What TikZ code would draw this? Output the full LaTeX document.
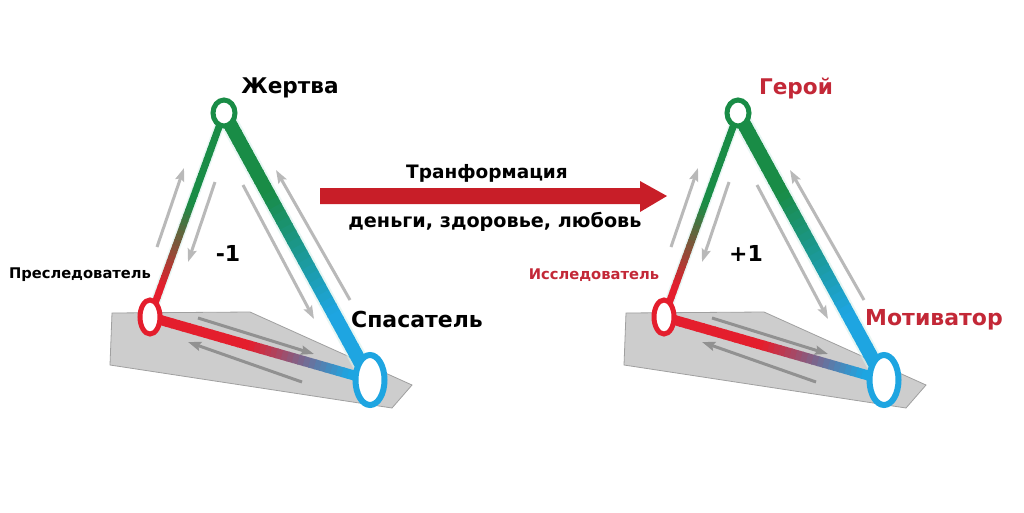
\documentclass[tikz,border=0pt]{standalone}
\usepackage{fontspec}
\setmainfont{DejaVu Sans}
\usetikzlibrary{shapes.geometric,arrows.meta,calc}
\definecolor{tgreen}{RGB}{25,140,70}
\definecolor{tblue}{RGB}{30,165,225}
\definecolor{tred}{RGB}{228,30,45}
\definecolor{arrred}{RGB}{200,30,40}
\definecolor{lblred}{RGB}{195,40,55}
\definecolor{garrow}{RGB}{185,185,185}
\definecolor{garrowd}{RGB}{145,145,145}
\definecolor{plat}{RGB}{205,205,205}
\definecolor{platedge}{RGB}{160,160,160}
\definecolor{glow}{RGB}{215,240,235}
\newcommand\gradedge[7]{%
  \foreach \i in {0,...,39}{%
    \pgfmathsetmacro\myT{(\i+0.5)/40}%
    \pgfmathsetmacro\myP{max(0,min(100,100*(#7-\myT)/(#7-#6)))}%
    \draw[line width=#3, color=#4!\myP!#5] ($(#1)!{\i/40}!(#2)$) -- ($(#1)!{(\i+1.2)/40}!(#2)$);
  }}
\tikzset{
  nd/.style={ellipse, fill=white, inner sep=0pt},
  garr/.style={draw=garrow, line width=3pt, -{Stealth[length=13pt,width=9pt,inset=2pt]}},
  garrd/.style={garr, draw=garrowd},
  lbl/.style={font=\bfseries, inner sep=0pt},
}
\begin{document}
\begin{tikzpicture}[x=1pt,y=-1pt]
\useasboundingbox (0,0) rectangle (1024,512);
\fill[white] (0,0) rectangle (1024,512);

\foreach \dx/\nm in {0/L,514/R}{
\begin{scope}[shift={(\dx,0)}]
  \coordinate (\nm t) at (224,113);
  \coordinate (\nm l) at (150,317);
  \coordinate (\nm r) at (370,380);
  % platform
  \filldraw[fill=plat, draw=platedge, line width=0.8pt] (112,313) -- (250,312) -- (412,385) -- (392,408) -- (110,365) -- cycle;
  % gray arrows
  \coordinate (\nm a1) at (157,247); \coordinate (\nm a2) at (184,168);
  \coordinate (\nm b1) at (215,182); \coordinate (\nm b2) at (188,262);
  \coordinate (\nm c1) at (243,185); \coordinate (\nm c2) at (314,319);
  \coordinate (\nm d1) at (350,300); \coordinate (\nm d2) at (276,170);
  \coordinate (\nm e1) at (198,318); \coordinate (\nm e2) at (314,354);
  \coordinate (\nm f1) at (302,382); \coordinate (\nm f2) at (188,342);
  \draw[garr] (\nm a1) -- (\nm a2);
  \draw[garr] (\nm b1) -- (\nm b2);
  \draw[garr] (\nm c1) -- (\nm c2);
  \draw[garr] (\nm d1) -- (\nm d2);
  \draw[garrd] (\nm e1) -- (\nm e2);
  \draw[garrd] (\nm f1) -- (\nm f2);
  % glow
  \draw[glow, line width=10pt, line cap=round, opacity=0.6] (\nm t) -- (\nm l);
  \draw[glow, line width=18pt, line cap=round, opacity=0.6] (\nm t) -- (\nm r);
  % edges
  \gradedge{\nm t}{\nm l}{7pt}{tgreen}{tred}{0.45}{0.85}
  \gradedge{\nm t}{\nm r}{14pt}{tgreen}{tblue}{0.3}{0.75}
  \gradedge{\nm l}{\nm r}{10pt}{tred}{tblue}{0.45}{0.9}
  % nodes
  \node[nd, draw=tgreen, line width=5pt, minimum width=22pt, minimum height=26pt] (\nm T) at (\nm t) {};
  \node[nd, draw=tred, line width=5pt, minimum width=20pt, minimum height=34pt] (\nm L) at (\nm l) {};
  \node[nd, draw=tblue, line width=6pt, minimum width=29pt, minimum height=50pt] (\nm R) at (\nm r) {};
\end{scope}}

% labels left
\node[lbl, font=\bfseries\fontsize{21.6}{24}\selectfont] (lj) at (290,88) {Жертва};
\node[lbl, font=\bfseries\fontsize{14.7}{16}\selectfont] (lp) at (80,275) {Преследователь};
\node[lbl, font=\bfseries\fontsize{22}{24}\selectfont] (lm) at (228,253) {-1};
\node[lbl, font=\bfseries\fontsize{22}{24}\selectfont] (ls) at (417,319) {Спасатель};
% labels right
\node[lbl, text=lblred, font=\bfseries\fontsize{21.6}{24}\selectfont] (rg) at (796,88) {Герой};
\node[lbl, text=lblred, font=\bfseries\fontsize{14.7}{16}\selectfont] (ri) at (594,275) {Исследователь};
\node[lbl, font=\bfseries\fontsize{22}{24}\selectfont] (rp) at (746,253) {+1};
\node[lbl, text=lblred, font=\bfseries\fontsize{22}{24}\selectfont] (rm) at (934,320) {Мотиватор};

% middle arrow
\fill[arrred] (320,188) -- (640,188) -- (640,181) -- (667,196) -- (640,212) -- (640,204) -- (320,204) -- cycle;
\node[lbl, font=\bfseries\fontsize{18.5}{20}\selectfont] (tr) at (487,173) {Транформация};
\node[lbl, font=\bfseries\fontsize{19.2}{20}\selectfont] (dz) at (495,222) {деньги, здоровье, любовь};
\end{tikzpicture}
\end{document}
